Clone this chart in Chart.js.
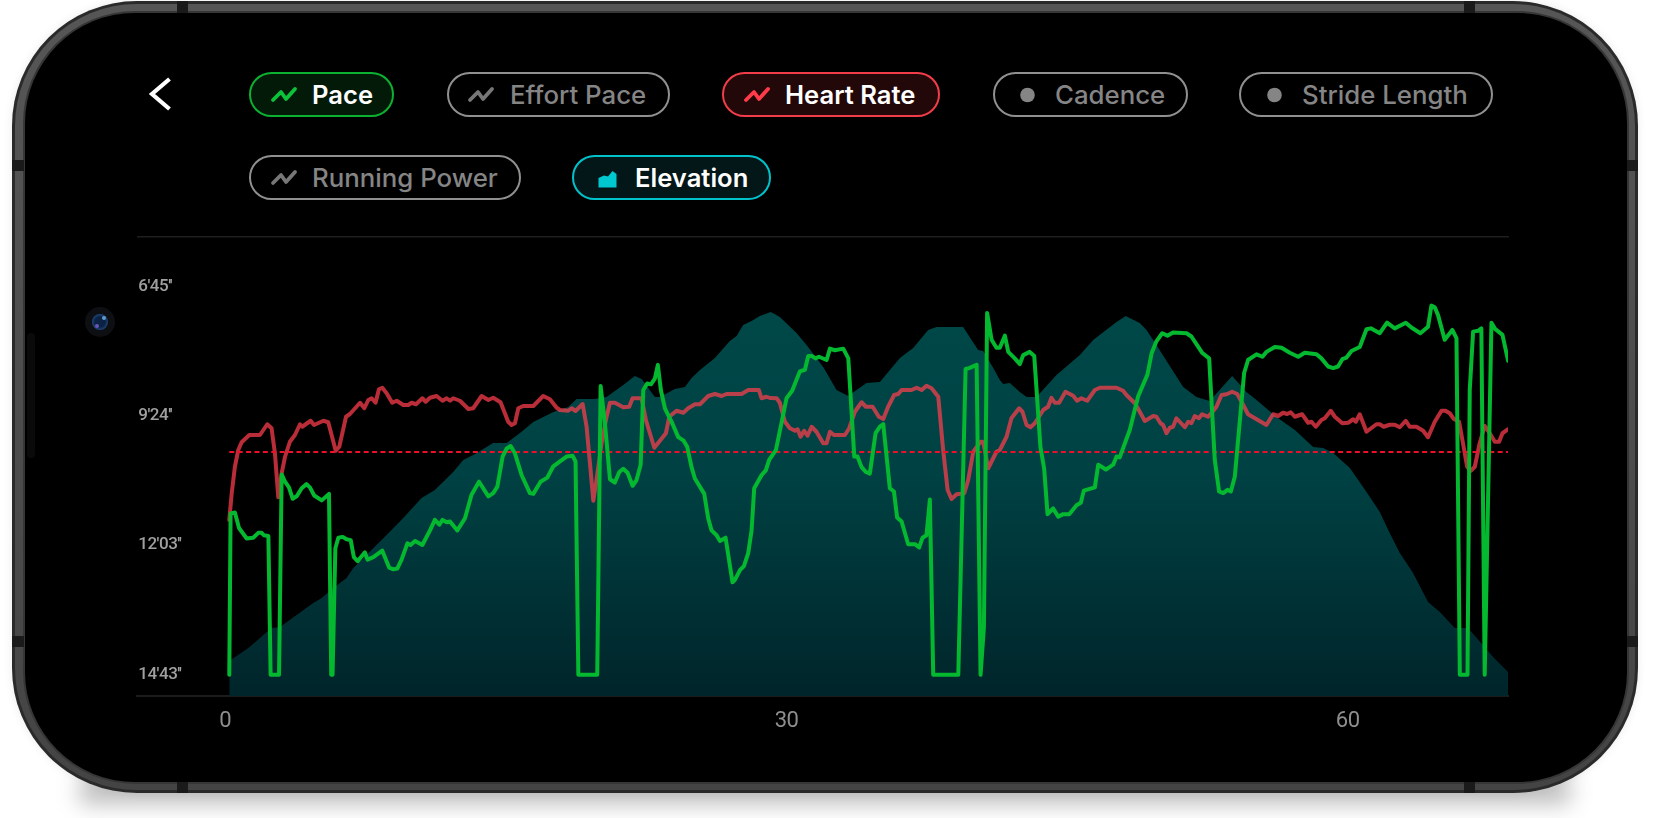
<!DOCTYPE html>
<html><head><meta charset="utf-8">
<script src="https://cdn.jsdelivr.net/npm/chart.js@4"></script>
<style>
html,body{margin:0;padding:0;background:#fff;width:1653px;height:818px;overflow:hidden}
#stage{position:relative;width:1653px;height:818px;overflow:hidden;font-family:Inter,Roboto,sans-serif}
#shadow{position:absolute;left:80px;top:776px;width:1490px;height:28px;background:rgba(0,0,0,.26);filter:blur(11px)}
#body{position:absolute;left:12px;top:1px;width:1626px;height:792px;border-radius:125px;background:#2a2a2a;box-shadow:0 0 10px rgba(0,0,0,.08)}
#ring{position:absolute;left:15px;top:4px;width:1620px;height:786px;border-radius:122px;background:linear-gradient(#565656,#444)}
#screen{position:absolute;left:25px;top:13px;width:1602px;height:769px;border-radius:110px;background:#000;box-shadow:0 0 0 2px #363636}
.band{position:absolute;background:#1a1a1a}
#speaker{position:absolute;left:27px;top:333px;width:8px;height:125px;border-radius:4px;background:#0a0a0a}
#cam{position:absolute;left:85px;top:307px;width:30px;height:30px;border-radius:50%;background:#0e0f12}
#lens{position:absolute;left:7px;top:7px;width:16px;height:16px;border-radius:50%;background:radial-gradient(circle at 50% 50%,#0c2244 45%,#2a5a96 85%,#1a3660 100%)}
#glintA{position:absolute;left:17px;top:9px;width:4px;height:4px;border-radius:50%;background:#5f9cc9}
#glintB{position:absolute;left:10px;top:17px;width:4px;height:4px;border-radius:50%;background:#6a55b8}
.pill{position:absolute;box-sizing:border-box;height:45px;border-radius:22.5px;border:2.2px solid #909090}
.txt{position:absolute;white-space:nowrap;font-size:25.8px;font-weight:500;color:#858585;line-height:30px}
.on{color:#fff;font-weight:600;font-size:25.6px}
svg{position:absolute;overflow:visible}
canvas{position:absolute;left:0;top:0}
</style></head>
<body><div id="stage">
<div id="shadow"></div>
<div id="body"></div><div id="ring"></div><div id="screen"></div>
<div class="band" style="left:177px;top:1px;width:11px;height:12px"></div>
<div class="band" style="left:1464px;top:1px;width:11px;height:12px"></div>
<div class="band" style="left:177px;top:782px;width:11px;height:11px"></div>
<div class="band" style="left:1464px;top:782px;width:11px;height:11px"></div>
<div class="band" style="left:12px;top:160px;width:12px;height:11px"></div>
<div class="band" style="left:12px;top:636px;width:12px;height:11px"></div>
<div class="band" style="left:1627px;top:160px;width:11px;height:11px"></div>
<div class="band" style="left:1627px;top:636px;width:11px;height:11px"></div>
<div id="speaker"></div>
<div id="cam"><div id="lens"></div><div id="glintA"></div><div id="glintB"></div></div>

<svg style="left:0;top:0" width="200" height="130"><polyline points="169.5,79 152,94 169.5,109" fill="none" stroke="#fff" stroke-width="4.2"/></svg>

<div class="pill" style="left:249px;top:72px;width:145px;background:#021a07;border-color:#0bb232"></div>
<svg style="left:0;top:0" width="1653" height="210"><polyline points="273,100 281,92 286,99 295,89" fill="none" stroke="#0cc23a" stroke-width="3.8" stroke-linecap="round" stroke-linejoin="round"/></svg>
<div class="txt on" style="left:312px;top:80px">Pace</div>

<div class="pill" style="left:447px;top:72px;width:223px"></div>
<svg style="left:0;top:0" width="1653" height="210"><polyline points="470,100 478,92 483,99 492,89" fill="none" stroke="#777" stroke-width="3.8" stroke-linecap="round" stroke-linejoin="round"/></svg>
<div class="txt" style="left:510px;top:80px">Effort Pace</div>

<div class="pill" style="left:722px;top:72px;width:218px;background:#230809;border-color:#f13c4a"></div>
<svg style="left:0;top:0" width="1653" height="210"><polyline points="746,100 754,92 759,99 768,89" fill="none" stroke="#ff3b4a" stroke-width="3.8" stroke-linecap="round" stroke-linejoin="round"/></svg>
<div class="txt on" style="left:785px;top:80px">Heart Rate</div>

<div class="pill" style="left:993px;top:72px;width:195px"></div>
<svg style="left:0;top:0" width="1653" height="210"><circle cx="1027.5" cy="95" r="7.3" fill="#858585"/></svg>
<div class="txt" style="left:1055px;top:80px">Cadence</div>

<div class="pill" style="left:1239px;top:72px;width:254px"></div>
<svg style="left:0;top:0" width="1653" height="210"><circle cx="1274.5" cy="95" r="7.3" fill="#858585"/></svg>
<div class="txt" style="left:1302px;top:80px">Stride Length</div>

<div class="pill" style="left:249px;top:155px;width:272px"></div>
<svg style="left:0;top:0" width="1653" height="210"><polyline points="273,183 281,175 286,182 295,172" fill="none" stroke="#777" stroke-width="3.8" stroke-linecap="round" stroke-linejoin="round"/></svg>
<div class="txt" style="left:312px;top:163px">Running Power</div>

<div class="pill" style="left:572px;top:155px;width:199px;background:#031618;border-color:#00c2cb"></div>
<svg style="left:0;top:0" width="1653" height="210"><path d="M598.5,178 L604,175.5 L608,176.5 L612.5,171 L616.5,174 L616.5,187.5 L598.5,187.5 Z" fill="#00c8cf"/></svg>
<div class="txt on" style="left:635px;top:163px">Elevation</div>

<canvas id="c" width="1653" height="818"></canvas>
</div>
<script>
// Pace: minutes into the run, seconds per mile
const paceMinutes=[0,0.07,0.30,0.52,0.93,1.28,1.55,1.73,1.85,2.09,2.21,2.66,2.80,2.98,3.19,3.39,3.60,3.87,4.13,4.31,4.54,4.94,5.33,5.45,5.52,5.67,5.83,6.06,6.27,6.49,6.66,6.86,7.25,7.39,7.70,8.18,8.55,8.77,8.98,9.21,9.52,9.69,9.93,10.32,10.73,10.99,11.23,11.40,11.62,11.80,12.19,12.60,12.95,13.35,13.85,14.11,14.33,14.61,14.83,15.04,15.27,15.63,16.07,16.25,16.64,17.00,17.32,17.68,18.03,18.35,18.51,18.66,19.67,19.85,20.08,20.35,20.61,20.85,21.06,21.29,21.56,21.77,21.99,22.13,22.34,22.54,22.75,22.91,23.07,23.29,23.64,24.00,24.27,24.48,24.71,24.89,25.39,25.60,25.78,26.05,26.23,26.53,26.90,27.03,27.30,27.51,27.74,27.92,28.06,28.45,28.68,28.86,29.22,29.79,30.09,30.50,30.77,30.95,31.13,31.34,31.52,31.93,32.11,32.37,32.82,33.09,33.41,33.58,33.80,34.03,34.24,34.55,34.78,34.96,35.31,35.53,35.70,35.94,36.29,36.65,36.88,37.06,37.27,37.45,37.63,38.97,39.36,39.55,39.95,40.16,40.34,40.51,40.75,41.01,41.19,41.46,41.64,41.99,42.26,42.44,42.79,43.03,43.36,43.56,43.74,44.04,44.31,44.58,44.90,45.29,45.52,45.68,46.27,46.45,46.86,47.25,47.43,47.60,48.14,48.58,49.08,49.30,49.56,49.87,50.15,50.45,51.17,51.43,52.00,52.38,52.68,52.91,53.13,53.36,53.54,53.75,54.25,54.46,54.91,55.23,55.44,55.89,56.25,56.69,57.14,57.49,58.12,58.38,58.74,59.01,59.27,59.50,59.72,59.99,60.43,60.79,61.02,61.50,61.89,62.30,62.89,63.19,63.67,64.08,64.26,64.44,64.62,64.97,65.38,65.60,65.78,66.19,66.31,66.49,66.76,66.93,67.11,67.47,67.68,68.06,68.36];
const paceSeconds=[883,684,683,702,715,714,708,708,711,712,883,883,636,645,652,666,663,653,648,652,662,668,660,883,883,727,714,713,716,717,738,743,732,741,738,730,751,753,752,741,721,723,718,723,705,692,698,692,695,694,705,690,661,645,663,659,651,614,604,601,610,637,659,660,645,640,626,620,614,613,620,883,883,527,573,642,646,633,629,634,650,643,624,532,524,525,518,501,532,555,571,590,594,602,627,641,660,690,705,711,718,714,769,766,754,749,733,705,653,637,631,618,606,542,533,509,507,490,490,493,491,495,481,483,481,493,614,614,627,633,635,585,577,574,653,657,689,694,722,722,726,714,711,667,883,883,506,505,501,883,824,437,470,480,480,465,485,493,500,489,485,490,602,629,685,678,688,685,685,674,671,656,652,624,630,624,614,615,581,540,513,487,472,462,465,461,462,466,486,493,618,657,659,655,657,639,511,495,488,491,485,479,480,486,491,486,488,493,503,505,503,494,492,484,479,457,456,462,449,456,449,455,462,454,428,430,440,470,458,468,883,883,532,460,459,456,883,449,457,464,496];
// Heart rate: minutes, beats per minute
const hrMinutes=[0,0.13,0.30,0.48,0.66,1.07,1.64,2.03,2.26,2.44,2.62,2.80,2.98,3.24,3.51,3.78,3.90,4.35,4.53,5.03,5.29,5.69,5.88,6.24,6.45,6.99,7.22,7.43,7.61,7.82,8.00,8.18,8.41,8.71,8.95,9.30,9.57,9.75,9.98,10.32,10.50,10.73,11.08,11.40,11.62,11.80,11.97,12.33,12.78,13.04,13.49,13.85,14.11,14.50,14.91,15.09,15.27,15.45,15.71,16.25,16.78,17.14,17.50,17.68,18.12,18.30,18.51,18.89,19.10,19.28,19.46,19.63,19.90,20.17,20.35,20.61,21.06,21.38,21.56,22.04,22.27,22.72,23.34,23.52,23.91,24.27,24.53,24.89,25.16,25.60,25.96,26.32,26.58,27.39,27.74,28.31,28.45,28.72,28.90,29.26,29.43,29.70,29.97,30.24,30.38,30.54,30.73,30.91,31.13,31.39,31.75,31.93,32.11,32.32,32.91,33.14,33.44,33.80,34.03,34.39,34.72,34.96,35.22,35.54,35.76,35.94,36.47,36.74,37.01,37.27,37.54,37.90,38.16,38.40,38.61,38.88,39.29,39.50,39.77,40.16,40.30,40.57,41.01,41.19,41.55,41.81,42.22,42.40,42.62,42.83,43.06,43.51,43.77,43.95,44.13,44.36,44.70,45.11,45.32,45.55,45.86,46.27,46.54,47.43,47.78,47.96,48.41,48.67,48.94,49.39,49.56,49.78,49.92,50.10,50.28,50.45,50.63,51.08,51.26,51.43,51.61,51.83,52.00,52.32,52.50,52.77,53.04,53.31,53.61,53.88,54.11,54.46,55.44,55.80,56.07,56.33,56.55,56.74,56.96,57.35,57.67,57.85,58.08,58.38,58.56,58.88,59.10,59.50,59.81,60.08,60.22,60.43,60.79,61.32,61.50,61.71,62.03,62.30,62.57,62.89,63.10,63.46,63.82,64.08,64.44,64.80,65.01,65.24,65.46,65.74,65.95,66.17,66.35,66.58,66.84,67.11,67.38,67.65,67.88,68.06,68.36];
const hrBpm=[122.8,133.5,144.1,150.8,153.9,156.8,156.8,161.1,159.5,149.5,131.9,141.5,148.1,154.1,156.8,161.1,160.1,162.5,160.8,162.5,161.9,150.5,152.1,164.1,165.2,169.7,167.5,170.8,171.5,169.7,175.1,175.7,173.5,169.7,170.5,168.8,168.8,169.7,169.1,171.5,170.1,171.7,172.4,170.5,171.5,170.5,171.5,170.5,167.2,167.5,172.4,170.8,171.7,169.9,162.1,160.8,161.5,167.5,168.4,168.4,172.4,171.1,167.7,166.8,166.5,167.5,166.4,169.2,160.1,145.5,130.5,138.8,153.5,164.1,169.7,169.7,167.9,168.1,171.5,171.5,162.8,151.7,157.5,164.1,166.5,165.7,167.5,169.1,169.1,172.4,173.2,172.4,173.2,173.2,174.8,174.8,171.5,172.1,171.6,171.5,169.7,162.1,159.5,158.5,159.1,156.1,158.5,156.5,160.1,158.1,153.5,153.5,158.1,156.8,156.8,159.5,166.1,169.9,168.1,168.1,164.1,163.2,168.1,172.8,173.2,174.8,174.8,175.7,174.8,176.5,175.5,172.1,150.8,134.8,131.2,133.1,133.5,138.8,150.1,154.1,154.1,143.5,150.1,150.8,156.1,163.5,167.5,166.1,160.8,159.9,161.5,166.8,168.1,171.7,169.7,169.7,174.1,172.5,170.5,171.5,170.5,174.8,175.7,175.7,174.5,172.8,169.5,166.1,162.4,164.4,164.1,161.5,160.8,157.5,159.7,160.1,163.5,159.9,162.1,161.5,164.4,163.5,165.1,164.1,165.5,168.1,172.8,173.1,174.1,173.2,170.1,165.1,160.8,165.1,164.4,165.7,165.2,165.9,164.1,165.1,161.7,162.1,160.1,162.8,163.5,166.5,164.1,161.5,161.7,163.1,162.1,165.1,158.1,161.1,161.1,160.1,160.9,160.9,159.9,162.5,160.1,160.1,158.5,155.9,162.1,166.5,166.5,165.5,163.2,162.1,153.5,144.1,142.4,144.1,153.5,160.4,157.5,154.1,154.1,157.5,159.1];
const avgHeartRate=150;
// Elevation: minutes, metres
const elevMinutes=[0,1.02,2.26,2.71,3.60,4.49,4.94,5.56,6.27,6.63,8.41,9.30,10.28,10.99,11.97,12.51,13.04,14.11,14.83,15.54,16.25,17.32,18.12,18.57,19.55,20.17,21.06,21.68,22.04,22.75,23.02,23.82,24.36,24.71,25.16,25.96,26.76,27.12,27.47,27.92,28.36,28.95,29.43,30.32,30.86,31.75,32.46,33.09,33.53,34.07,34.78,35.85,36.56,37.36,37.81,39.23,40.03,40.30,40.84,41.19,41.37,41.72,42.26,42.62,43.15,44.22,45.47,46.18,47.43,47.92,48.67,49.03,49.56,50.99,51.70,52.41,53.61,54.37,54.91,55.98,56.96,57.94,58.47,59.01,59.90,60.79,61.50,62.03,62.57,63.28,64.08,64.71,65.51,66.22,67.56,68.36];
const elevMeters=[35,48,68,69,81,93,98,108,118,128,161,178,198,206,224,236,241,253,253,263,274,284,289,297,297,299,311,320,317,299,299,307,309,318,326,338,355,360,371,375,380,384,379,363,351,329,306,300,306,313,314,338,348,366,369,369,346,345,328,316,312,313,304,299,299,321,341,356,374,380,373,366,351,309,299,295,320,304,296,279,266,249,248,243,228,204,184,163,143,123,94,84,68,68,39,24];
// Axis ticks
const xTickMinutes=[0,30,60];
const paceTickSeconds=[405,564,723,883];

const zip=(xs,ys)=>xs.map((x,i)=>({x,y:ys[i]}));
const paceLabel=s=>Math.floor(s/60)+"'"+String(s%60).padStart(2,'0')+"''";
const noGrid={drawOnChartArea:false,drawTicks:false};
const tightText={id:'tightText',beforeDraw(chart){chart.ctx.letterSpacing='-0.5px'}};

new Chart(document.getElementById('c'),{
  type:'line',
  plugins:[tightText],
  data:{datasets:[
    {label:'Pace',yAxisID:'yPace',data:zip(paceMinutes,paceSeconds),order:1,
     borderColor:'#04b92f',borderWidth:4,pointRadius:0,tension:0,fill:false,borderCapStyle:'round',borderJoinStyle:'round'},
    {label:'Average heart rate',yAxisID:'yHr',data:[{x:paceMinutes[0],y:avgHeartRate},{x:paceMinutes[paceMinutes.length-1],y:avgHeartRate}],order:2,
     borderColor:'#ee0f2b',borderWidth:2,borderDash:[5,3.4],pointRadius:0,fill:false},
    {label:'Heart Rate',yAxisID:'yHr',data:zip(hrMinutes,hrBpm),order:3,
     borderColor:'rgba(255,62,76,0.72)',borderWidth:4,pointRadius:0,tension:0,fill:false,borderCapStyle:'round',borderJoinStyle:'round'},
    {label:'Elevation',yAxisID:'yElev',data:zip(elevMinutes,elevMeters),order:4,
     borderWidth:0,pointRadius:0,tension:0,fill:'start',
     backgroundColor(ctx){
       const a=ctx.chart.chartArea; if(!a) return '#004244';
       const g=ctx.chart.ctx.createLinearGradient(0,a.top,0,a.bottom);
       g.addColorStop(0,'#004a4a');g.addColorStop(0.5,'#004244');g.addColorStop(1,'#00252a');
       return g;
     }}
  ]},
  options:{
    responsive:false,animation:false,devicePixelRatio:1,
    layout:{padding:{left:137.3,right:145,top:237,bottom:77}},
    plugins:{legend:{display:false},tooltip:{enabled:false}},
    scales:{
      x:{type:'linear',position:'bottom',min:-4.917,max:68.355,
         grid:noGrid,border:{display:true,color:'#1c1c1c',width:2},
         afterBuildTicks(s){s.ticks=xTickMinutes.map(value=>({value}))},
         afterFit(s){s.height=45},
         ticks:{autoSkip:false,maxRotation:0,padding:12,labelOffset:-4,color:'#8e8e8e',font:{family:'Roboto',size:22,weight:'400'},callback:v=>String(v)}},
      xTop:{type:'linear',position:'top',min:-4.917,max:68.355,
         grid:noGrid,border:{display:true,color:'#1e1e1e',width:1.5},
         ticks:{display:false},afterFit(s){s.height=0}},
      yPace:{type:'linear',position:'left',reverse:true,min:343.4,max:909.1,
         grid:noGrid,border:{display:false},
         afterBuildTicks(s){s.ticks=paceTickSeconds.map(value=>({value}))},
         afterFit(s){s.width=0},
         ticks:{mirror:true,padding:1,autoSkip:false,color:'#a0a0a0',font:{family:'Roboto',size:17,weight:'500'},callback:paceLabel}},
      yHr:{type:'linear',display:false,min:52.4,max:236},
      yElev:{type:'linear',display:false,min:0,max:459}
    }
  }
});
</script>
</body></html>
